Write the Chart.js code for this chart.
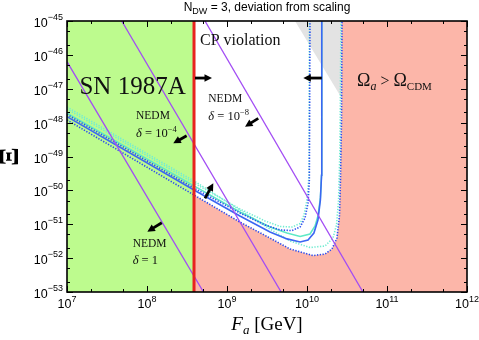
<!DOCTYPE html>
<html><head><meta charset="utf-8">
<script src="https://cdn.jsdelivr.net/npm/chart.js@4/dist/chart.umd.min.js"></script>
<style>html,body{margin:0;padding:0;background:#fff}</style>
</head><body>
<canvas id="c" width="479" height="340"></canvas>
<script>
// ---------------- data ----------------
const X_TICKS = [1e7, 1e8, 1e9, 1e10, 1e11, 1e12];
const Y_TICKS = [1e-45, 1e-46, 1e-47, 1e-48, 1e-49, 1e-50, 1e-51, 1e-52, 1e-53];
const MINOR_MULT = [2, 5];

const SN_BOUND_FA = 3.87e8;           // SN 1987A bound (red line)

const BLUE_SOLID_FA = [1e7, 3.87e8, 1.45e9, 3.45e9, 5.62e9, 8.2e9, 1.03e10, 1.22e10, 1.37e10, 1.47e10, 1.52e10, 1.53e10];
const BLUE_SOLID_XI = [1.5e-48, 1.03e-50, 1.75e-51, 5.9e-52, 3.7e-52, 3.0e-52, 3.4e-52, 5.5e-52, 1.33e-51, 5.2e-51, 2.8e-50, 1e-45];

const CYAN_SOLID_FA = [1e7, 3.87e8, 1.45e9, 3.45e9, 5.62e9, 8.2e9, 1.09e10, 1.26e10, 1.37e10, 1.47e10, 1.52e10, 1.53e10];
const CYAN_SOLID_XI = [1.92e-48, 1.35e-50, 2.3e-51, 8.3e-52, 5.5e-52, 4.35e-52, 5.15e-52, 8.9e-52, 1.75e-51, 6.0e-51, 2.8e-50, 1e-45];

const BLUE_DOT_IN_FA = [1e7, 3.87e8, 1.45e9, 2.99e9, 4.6e9, 6.49e9, 8.2e9, 9.44e9, 1.03e10, 1.07e10, 1.09e10];
const BLUE_DOT_IN_XI = [1.74e-48, 1.17e-50, 2.15e-51, 9.5e-52, 6.8e-52, 6.5e-52, 8.3e-52, 1.53e-51, 4.2e-51, 2.0e-50, 1e-45];

const CYAN_DOT_IN_FA = [1e7, 3.87e8, 1.45e9, 2.99e9, 4.6e9, 6.49e9, 8.2e9, 9.17e9, 1.0e10, 1.06e10, 1.07e10];
const CYAN_DOT_IN_XI = [2.52e-48, 1.65e-50, 2.82e-51, 1.25e-51, 8.6e-52, 8.3e-52, 1.05e-51, 1.87e-51, 5.2e-51, 2.8e-50, 1e-45];

const BLUE_DOT_OUT_FA = [1e7, 3.87e8, 1.45e9, 3.45e9, 6.13e9, 1.19e10, 1.68e10, 2.05e10, 2.37e10, 2.55e10, 2.62e10, 2.70e10, 2.74e10];
const BLUE_DOT_OUT_XI = [1.2e-48, 7.3e-51, 1.16e-51, 3.9e-52, 1.86e-52, 1.19e-52, 1.32e-52, 1.86e-52, 3.9e-52, 1.87e-51, 2.0e-50, 1.2e-48, 1e-45];

const CYAN_DOT_OUT_FA = [1e7, 3.87e8, 1.45e9, 3.45e9, 6.13e9, 1.09e10, 1.68e10, 2.11e10, 2.34e10, 2.48e10, 2.58e10, 2.66e10];
const CYAN_DOT_OUT_XI = [2.89e-48, 1.89e-50, 2.64e-51, 7.2e-52, 3.2e-52, 2.06e-52, 2.28e-52, 3.9e-52, 9.5e-52, 5.2e-51, 1.56e-49, 1e-45];

const GRAY_FA = [7.08e9, 2.72e10];
const GRAY_XI = [1e-45, 5.2e-48];

const NEDM_D1_FA = [1e7, 5.08e8];       const NEDM_D1_XI = [6.3e-47, 1e-53];
const NEDM_D1E4_FA = [4.83e7, 4.75e9];  const NEDM_D1E4_XI = [1e-45, 1e-53];
const NEDM_D1E8_FA = [5.31e8, 5.0e10];  const NEDM_D1E8_XI = [1e-45, 1e-53];

// annotation arrows (data coordinates: from -> to)
const ARROWS = [
  [[3.98e8, 2.07e-47], [6.49e8, 2.07e-47]],
  [[1.53e10, 2.07e-47], [8.99e9, 2.07e-47]],
  [[2.46e9, 1.34e-48], [1.68e9, 7.59e-49]],
  [[3.13e8, 4.11e-49], [2.13e8, 2.45e-49]],
  [[1.53e8, 1.11e-51], [1.01e8, 6.03e-52]],
  [[5.31e8, 5.83e-51], [6.74e8, 1.62e-50]]
];

// ---------------- helpers ----------------
const pts = (xs, ys) => xs.map((x, i) => ({x, y: ys[i]}));
const expOf = v => String(Math.round(Math.log10(v))).replace('-', '−');

const GREEN = '#bdfb8e', SALMON = '#fcb6a9', GRAY = '#e3e3e3';
const BLUE = '#3b66f2', BLUE_D = '#2a4cf0', CYAN = '#5ee9c6', CYAN_D = '#72ecd2', PURPLE = '#a24cf4', RED = '#e8231f';
const SERIF = '"Liberation Serif", "DejaVu Serif", serif';
const SANS = '"Liberation Sans", Arial, sans-serif';
const DOT = [1.3, 1.5];

const salmonPts = pts(BLUE_DOT_OUT_FA.slice(1), BLUE_DOT_OUT_XI.slice(1)).concat([{x: X_TICKS[X_TICKS.length-1], y: Y_TICKS[0]}]);
const greenPts = [{x: X_TICKS[0], y: Y_TICKS[0]}, {x: SN_BOUND_FA, y: Y_TICKS[0]}];

function lineDs(data, color, width, dash, order) {
  return {data, borderColor: color, borderWidth: width, borderDash: dash || [], showLine: true,
    pointRadius: 0, fill: false, tension: 0, order};
}

const datasets = [
  {data: greenPts, showLine: true, pointRadius: 0, borderWidth: 0, borderColor: 'rgba(0,0,0,0)', backgroundColor: GREEN, fill: 'start', order: 100},
  {data: salmonPts, showLine: true, pointRadius: 0, borderWidth: 0, borderColor: 'rgba(0,0,0,0)', backgroundColor: SALMON, fill: 'start', order: 99},
  {data: pts(GRAY_FA, GRAY_XI), showLine: true, pointRadius: 0, borderWidth: 0, borderColor: 'rgba(0,0,0,0)', backgroundColor: GRAY, fill: 'end', order: 98},
  lineDs(pts(CYAN_DOT_OUT_FA, CYAN_DOT_OUT_XI), CYAN_D, 1.6, DOT, 60),
  lineDs(pts(CYAN_DOT_IN_FA, CYAN_DOT_IN_XI), CYAN_D, 1.6, DOT, 59),
  lineDs(pts(CYAN_SOLID_FA, CYAN_SOLID_XI), CYAN, 1.5, null, 58),
  lineDs(pts(BLUE_DOT_OUT_FA, BLUE_DOT_OUT_XI), BLUE_D, 1.6, DOT, 57),
  lineDs(pts(BLUE_DOT_IN_FA, BLUE_DOT_IN_XI), BLUE_D, 1.6, DOT, 56),
  lineDs(pts(BLUE_SOLID_FA, BLUE_SOLID_XI), BLUE, 1.6, null, 55),
  lineDs(pts(NEDM_D1_FA, NEDM_D1_XI), PURPLE, 1.3, null, 20),
  lineDs(pts(NEDM_D1E4_FA, NEDM_D1E4_XI), PURPLE, 1.3, null, 19),
  lineDs(pts(NEDM_D1E8_FA, NEDM_D1E8_XI), PURPLE, 1.3, null, 18),
  lineDs([{x: SN_BOUND_FA, y: Y_TICKS[Y_TICKS.length-1]}, {x: SN_BOUND_FA, y: Y_TICKS[0]}], RED, 3, null, 5)
];

function drawArrow(ctx, x0, y0, x1, y1) {
  const a = Math.atan2(y1 - y0, x1 - x0), c = Math.cos(a), s = Math.sin(a);
  const head = 7.5, w = 3.8;
  ctx.lineWidth = 2.8; ctx.lineCap = 'butt';
  ctx.beginPath(); ctx.moveTo(x0, y0); ctx.lineTo(x1 - head * 0.7 * c, y1 - head * 0.7 * s); ctx.stroke();
  ctx.beginPath(); ctx.moveTo(x1, y1);
  ctx.lineTo(x1 - head * c + w * s, y1 - head * s - w * c);
  ctx.lineTo(x1 - head * c - w * s, y1 - head * s + w * c);
  ctx.closePath(); ctx.fill();
}

function measure(ctx, parts) { let t = 0; parts.forEach(p => { ctx.font = p[1]; t += ctx.measureText(p[0]).width; }); return t; }
// draw text with subscript/superscript runs: parts = [[text, font, dy]]
function runs(ctx, x, y, parts, align) {
  const total = measure(ctx, parts);
  let cx = align === 'center' ? x - total / 2 : align === 'right' ? x - total : x;
  ctx.textAlign = 'left'; ctx.textBaseline = 'alphabetic';
  parts.forEach(p => { ctx.font = p[1]; ctx.fillText(p[0], cx, y + (p[2] || 0)); cx += ctx.measureText(p[0]).width; });
}

const decor = {
  id: 'decor',
  afterDatasetsDraw(chart) {
    const {ctx, chartArea: A, scales: {x, y}} = chart;
    ctx.save();
    ctx.fillStyle = '#000'; ctx.strokeStyle = '#000';
    ARROWS.forEach(([f, t]) => drawArrow(ctx, x.getPixelForValue(f[0]), y.getPixelForValue(f[1]), x.getPixelForValue(t[0]), y.getPixelForValue(t[1])));

    ctx.fillStyle = '#111';
    const P = (fa, xi) => [x.getPixelForValue(fa), y.getPixelForValue(xi)];
    let p;
    p = P(6.6e7, 7.0e-48); runs(ctx, p[0], p[1], [['SN 1987A', '25px ' + SERIF]], 'center');
    p = P(4.6e8, 1.96e-46); runs(ctx, p[0], p[1], [['CP violation', '16px ' + SERIF]]);
    p = P(4.22e10, 1.2e-47); runs(ctx, p[0], p[1], [['Ω', '18px ' + SERIF], ['a', 'italic 12px ' + SERIF, 4], [' > ', '16px ' + SERIF], ['Ω', '18px ' + SERIF], ['CDM', '11px ' + SERIF, 4]]);
    const nedm = (fa, xi1, xi2, exp) => {
      let q = P(fa, xi1); runs(ctx, q[0], q[1], [['NEDM', '11.5px ' + SERIF]]);
      q = P(fa, xi2);
      const parts = [['δ', 'italic 12.5px ' + SERIF], [' = ', '12.5px ' + SERIF]];
      if (exp) { parts.push(['10', '12.5px ' + SERIF]); parts.push([exp, '8.5px ' + SERIF, -5]); }
      else parts.push(['1', '12.5px ' + SERIF]);
      runs(ctx, q[0], q[1], parts);
    };
    nedm(5.84e8, 4.06e-48, 1.19e-48, '−8');
    nedm(7.29e7, 1.28e-48, 3.64e-49, '−4');
    nedm(6.62e7, 2.06e-52, 6.49e-53, null);

    // inward tick marks on all four sides
    ctx.strokeStyle = '#000'; ctx.lineWidth = 1;
    const ex = [], ey = [];
    x.ticks.forEach(t => { ex.push([t.value, 6]); MINOR_MULT.forEach(m => { if (t.value * m < x.max) ex.push([t.value * m, 3]); }); });
    y.ticks.forEach(t => { ey.push([t.value, 6]); MINOR_MULT.forEach(m => { if (t.value * m < y.max) ey.push([t.value * m, 3]); }); });
    ctx.beginPath();
    ex.forEach(([v, L]) => { const px = Math.round(x.getPixelForValue(v)) + 0.5; ctx.moveTo(px, A.bottom); ctx.lineTo(px, A.bottom - L); ctx.moveTo(px, A.top); ctx.lineTo(px, A.top + L); });
    ey.forEach(([v, L]) => { const py = Math.round(y.getPixelForValue(v)) + 0.5; ctx.moveTo(A.left, py); ctx.lineTo(A.left + L, py); ctx.moveTo(A.right, py); ctx.lineTo(A.right - L, py); });
    ctx.stroke();
    ctx.lineWidth = 1.6;
    ctx.strokeRect(A.left, A.top, A.right - A.left, A.bottom - A.top);

    // tick labels 10^n
    ctx.fillStyle = '#000';
    const base = '12.5px ' + SANS, sup = '9px ' + SANS;
    x.ticks.forEach(t => {
      const px = x.getPixelForValue(t.value);
      runs(ctx, px, A.bottom + 16, [['10', base], [expOf(t.value), sup, -6]], 'center');
    });
    y.ticks.forEach(t => {
      const py = y.getPixelForValue(t.value);
      runs(ctx, A.left - 4, py + 6, [['10', base], [expOf(t.value), sup, -7]], 'right');
    });

    // title
    runs(ctx, (A.left + A.right) / 2, 11, [['N', '12px ' + SANS], ['DW', '9px ' + SANS, 3], [' = 3, deviation from scaling', '12px ' + SANS]], 'center');
    // axis titles
    runs(ctx, (A.left + A.right) / 2, 330, [['F', 'italic 19px ' + SERIF], ['a', 'italic 13px ' + SERIF, 4], [' [GeV]', '19px ' + SERIF]], 'center');
    ctx.save();
    ctx.translate(18, (A.top + A.bottom) / 2);
    ctx.rotate(-Math.PI / 2);
    runs(ctx, 0, 0, [['Ξ', 'bold 27px ' + SERIF]], 'center');
    ctx.restore();
    ctx.restore();
  }
};

new Chart(document.getElementById('c'), {
  type: 'scatter',
  data: {datasets},
  options: {
    responsive: false, animation: false, devicePixelRatio: 1,
    layout: {padding: {top: 21, right: 12, left: 0, bottom: 0}},
    plugins: {legend: {display: false}, tooltip: {enabled: false}, title: {display: false}},
    scales: {
      x: {
        type: 'logarithmic', min: X_TICKS[0], max: X_TICKS[X_TICKS.length-1],
        afterBuildTicks: s => { s.ticks = X_TICKS.map(v => ({value: v})); },
        afterFit: s => { s.height = 48; },
        grid: {display: false, drawTicks: false}, border: {display: false},
        ticks: {display: false, autoSkip: false}
      },
      y: {
        type: 'logarithmic', min: Y_TICKS[Y_TICKS.length-1], max: Y_TICKS[0],
        afterBuildTicks: s => { s.ticks = Y_TICKS.slice().reverse().map(v => ({value: v})); },
        afterFit: s => { s.width = 67; },
        grid: {display: false, drawTicks: false}, border: {display: false},
        ticks: {display: false, autoSkip: false}
      }
    }
  },
  plugins: [decor]
});
</script>
</body></html>
